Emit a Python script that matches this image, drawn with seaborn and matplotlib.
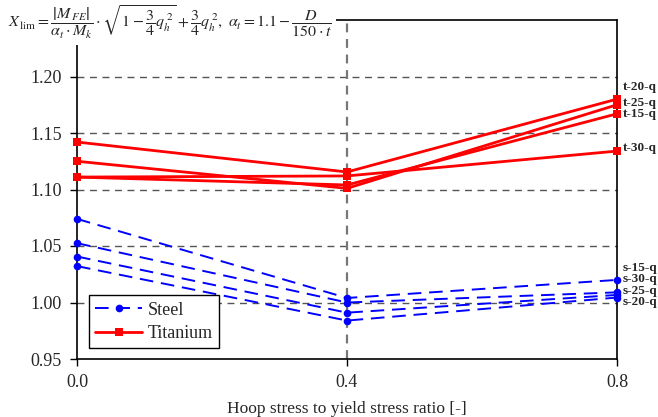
import matplotlib
matplotlib.use("Agg")
import matplotlib.pyplot as plt
from matplotlib.lines import Line2D
import seaborn as sns
import pandas as pd

ratios = [0.0, 0.4, 0.8]

steel_names = ["s-15-q", "s-30-q", "s-25-q", "s-20-q"]
steel_values = [
    [1.074, 1.004, 1.020],
    [1.0525, 1.000, 1.009],
    [1.0407, 0.991, 1.0067],
    [1.0322, 0.984, 1.0044],
]
steel_label_y = [1.0305, 1.0205, 1.0105, 1.0005]

ti_names = ["t-20-q", "t-25-q", "t-15-q", "t-30-q"]
ti_values = [
    [1.142, 1.1155, 1.180],
    [1.125, 1.101, 1.175],
    [1.111, 1.104, 1.167],
    [1.111, 1.112, 1.134],
]
ti_label_y = [1.191, 1.1765, 1.1665, 1.137]

y_ticks = [0.95, 1.00, 1.05, 1.10, 1.15, 1.20]

rows = []
for name, vals in zip(steel_names, steel_values):
    for r, v in zip(ratios, vals):
        rows.append(dict(material="Steel", series=name, ratio=r, X=v))
for name, vals in zip(ti_names, ti_values):
    for r, v in zip(ratios, vals):
        rows.append(dict(material="Titanium", series=name, ratio=r, X=v))
df = pd.DataFrame(rows)

sns.set_style("white")
plt.rcParams["font.family"] = ["Liberation Serif", "DejaVu Serif"]
plt.rcParams["mathtext.fontset"] = "stix"

fig = plt.figure(figsize=(6.58, 4.17), dpi=100)
ax = fig.add_axes([77/658, 1-359/417, (617-77)/658, (359-20)/417])

# grid
for yt in y_ticks[1:]:
    ax.axhline(yt, color="#555555", lw=1.0, ls=(0, (5, 4)), zorder=1)
ax.axhline(1.25, color="black", lw=1.2, zorder=1)
ax.axvline(0.4, color="#777777", lw=1.6, ls=(0, (4, 3)), zorder=1)

sns.lineplot(data=df[df.material == "Steel"], x="ratio", y="X", units="series",
             estimator=None, color="#0000FF", lw=1.4, marker="o", markersize=5.5,
             markeredgewidth=0, ls=(0, (7, 4)), ax=ax, zorder=3,
             legend=False)
sns.lineplot(data=df[df.material == "Titanium"], x="ratio", y="X", units="series",
             estimator=None, color="#FF0000", lw=2.0, marker="s", markersize=6,
             markeredgewidth=0, ax=ax, zorder=4, legend=False)
for ln in ax.lines:
    ln.set_clip_on(False)

for name, ly in zip(ti_names, ti_label_y):
    ax.text(0.808, ly, name, fontsize=9.5, fontweight="bold", va="center", ha="left",
            clip_on=False)
for name, ly in zip(steel_names, steel_label_y):
    ax.text(0.808, ly, name, fontsize=9.5, fontweight="bold", va="center", ha="left",
            clip_on=False)

ax.set_xlim(0.0, 0.8)
ax.set_ylim(0.95, 1.25)
ax.set_xticks(ratios)
ax.set_xticklabels([f"{r:.1f}" for r in ratios], fontsize=13)
ax.set_yticks(y_ticks)
ax.set_yticklabels([f"{t:.2f}" for t in y_ticks], fontsize=13)
ax.tick_params(axis="both", direction="out", length=5, width=1, color="black",
               pad=6, left=True, bottom=True)
ax.set_xlabel("Hoop stress to yield stress ratio [-]", fontsize=12.5, labelpad=7)
ax.set_ylabel("")
for s in ["left", "bottom", "right"]:
    ax.spines[s].set_visible(True)
    ax.spines[s].set_color("black")
    ax.spines[s].set_linewidth(1.2)
ax.spines["top"].set_visible(False)

handles = [
    Line2D([], [], color="#0000FF", lw=1.4, ls=(0, (7, 4)), marker="o",
           markersize=5.5, markeredgewidth=0),
    Line2D([], [], color="#FF0000", lw=2.0, marker="s", markersize=6,
           markeredgewidth=0),
]
leg = ax.legend(handles, ["Steel", "Titanium"], loc="lower left",
                bbox_to_anchor=(0.005, 0.005), fontsize=13, frameon=True,
                fancybox=False, edgecolor="black", framealpha=1,
                handlelength=2.6, handletextpad=0.3, borderpad=0.35,
                labelspacing=0.35)
leg.get_frame().set_linewidth(1.0)
leg.set_zorder(10)

formula = (r"$X_{\,\mathrm{lim}}=\dfrac{\left|M_{\,FE}\right|}{\alpha_t\cdot M_k}\cdot"
           r"\sqrt{1-\dfrac{3}{4}q_h^{\;2}}+\dfrac{3}{4}q_h^{\;2},\ "
           r"\alpha_t=1.1-\dfrac{D}{150\cdot t}$")
fig.text(0.012, 0.99, formula, fontsize=11.5, va="top", ha="left", zorder=20,
         bbox=dict(facecolor="white", edgecolor="none", pad=3))

fig.savefig("out.png", dpi=100)
